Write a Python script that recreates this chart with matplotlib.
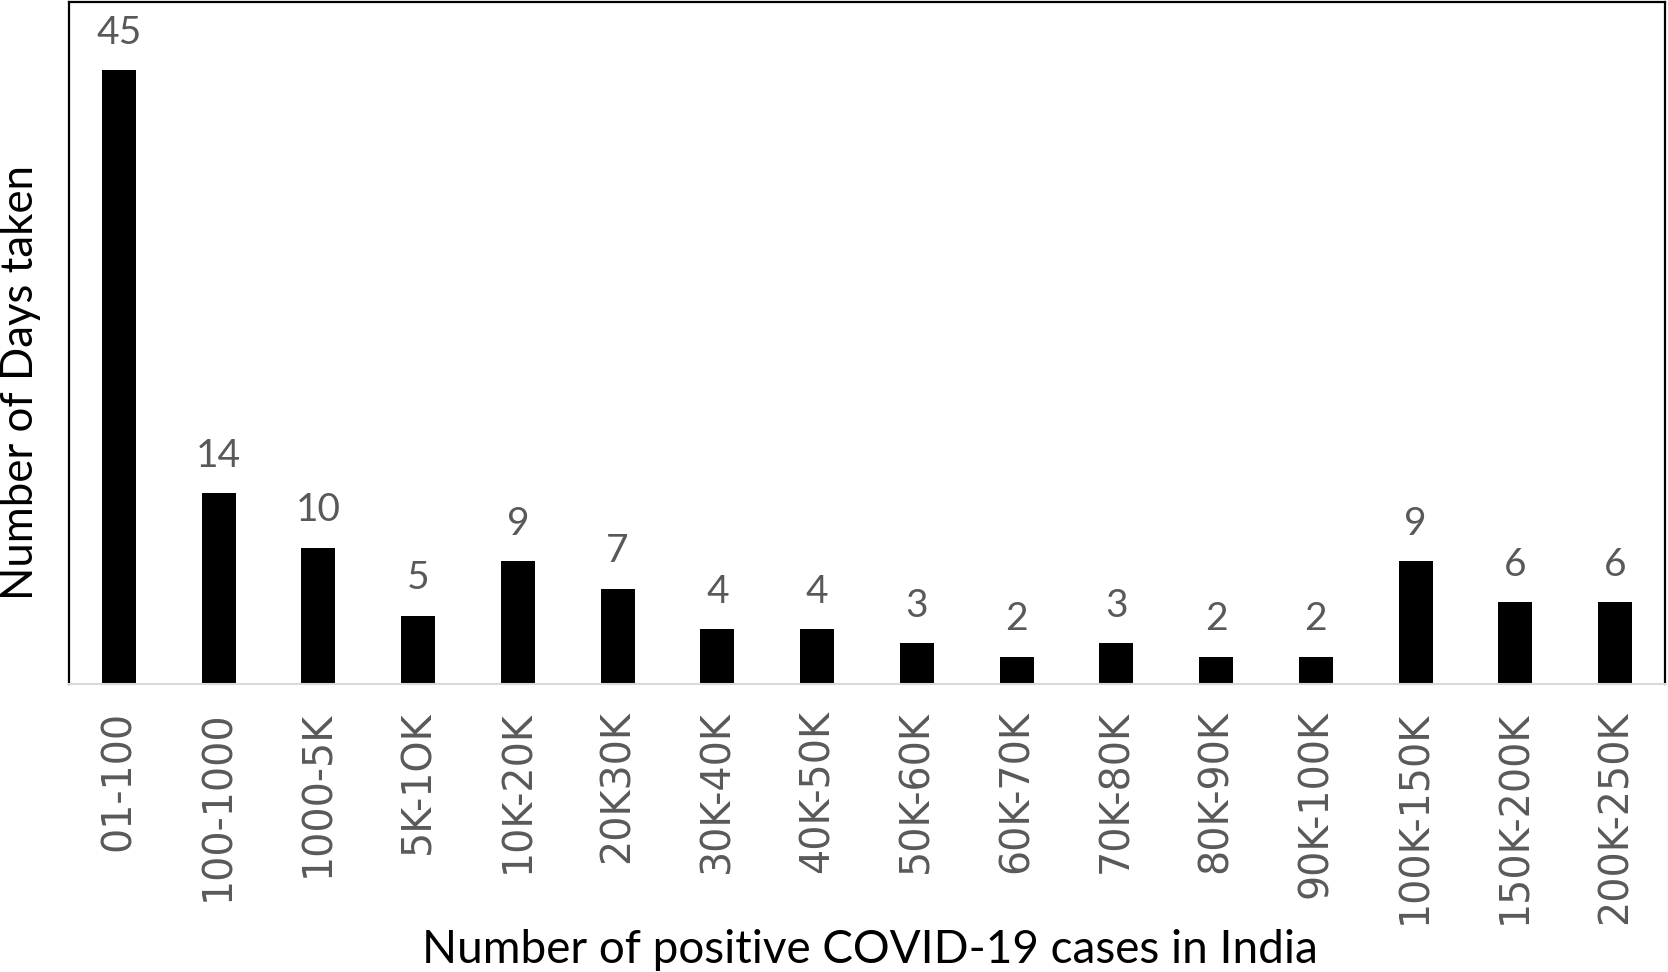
import numpy as np
import matplotlib.pyplot as plt

categories = ["01-100", "100-1000", "1000-5K", "5K-1OK", "10K-20K", "20K30K",
              "30K-40K", "40K-50K", "50K-60K", "60K-70K", "70K-80K", "80K-90K",
              "90K-100K", "100K-150K", "150K-200K", "200K-250K"]
days = [45, 14, 10, 5, 9, 7, 4, 4, 3, 2, 3, 2, 2, 9, 6, 6]

W, H = 1668, 972
fig = plt.figure(figsize=(W / 100, H / 100), dpi=100)
ax = fig.add_axes([69 / W, 1 - 684 / H, (1665 - 69) / W, (684 - 2) / H])

x = np.arange(len(categories))
bars = ax.bar(x, days, width=0.34, color="black")

for xi, v in zip(x, days):
    ax.annotate(str(v), (xi, v), xytext=(0, 14), textcoords="offset points",
                ha="center", va="bottom", fontsize=28, color="#595959",
                family="Lato")

ax.set_xlim(-0.5, len(categories) - 0.5)
ax.set_ylim(0, 50)
ax.set_yticks([])
ax.set_xticks(x)
ax.set_xticklabels(categories, rotation=90, fontsize=28.5, color="#595959",
                   family="DejaVu Sans")
ax.tick_params(axis="x", length=0, pad=19)

for s in ["left", "top", "right"]:
    ax.spines[s].set_linewidth(1.6)
    ax.spines[s].set_color("black")
ax.spines["bottom"].set_color("#d9d9d9")
ax.spines["bottom"].set_linewidth(1.5)

fig.text(870 / W, 1 - 963 / H, "Number of positive COVID-19 cases in India",
         ha="center", va="baseline", fontsize=33, family="Lato", color="black")
fig.text(21 / W, 1 - 382 / H, "Number of Days taken", rotation=90,
         ha="center", va="center", fontsize=31.5, family="Lato", color="black")

fig.savefig("out.png", dpi=100)
